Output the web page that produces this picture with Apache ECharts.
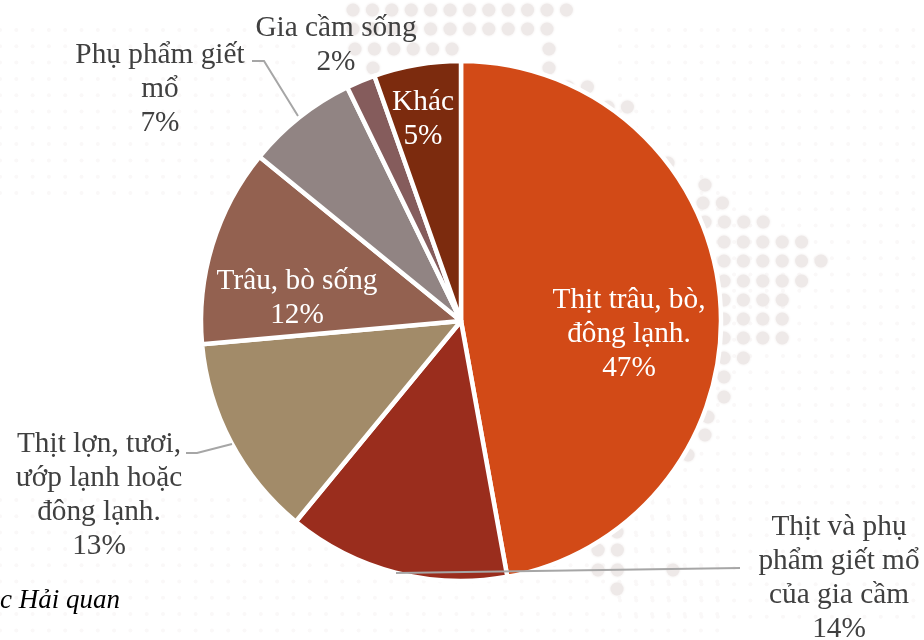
<!DOCTYPE html>
<html>
<head>
<meta charset="utf-8">
<script src="https://cdn.jsdelivr.net/npm/echarts@6/dist/echarts.min.js"></script>
<style>html,body{margin:0;padding:0;background:#fff}#c{width:924px;height:640px}</style>
</head>
<body>
<div id="c"></div>
<script>
const categories = ['Thịt trâu, bò,\nđông lạnh.', 'Thịt và phụ\nphẩm giết mổ\ncủa gia cầm', 'Thịt lợn, tươi,\nướp lạnh hoặc\nđông lạnh.', 'Trâu, bò sống', 'Phụ phẩm giết\nmổ', 'Gia cầm sống', 'Khác'];
const shares = [47.1, 13.8, 12.6, 12.3, 6.9, 1.8, 5.4];
const colors = ['#D24A17', '#9A2D1D', '#A28B69', '#936150', '#918483', '#855C5C', '#7C2B0E'];
const dark = '#404040';
const placements = [
  {x: 629, y: 334},
  {x: 839, y: 578, line: [[740, 568], [740, 568], [396, 573]]},
  {x: 99, y: 495, line: [[186, 453], [197, 453], [232, 444]]},
  {x: 297, y: 298},
  {x: 160, y: 89, line: [[252, 61], [264, 61], [298, 116]]},
  {x: 336, y: 45},
  {x: 423, y: 119}
];
const insideIdx = [0, 3, 6];
const dotRows = [
  [10, 353, 568], [29, 353, 549], [49, 355, 452], [49, 549, 549], [68, 373, 373], [68, 549, 549],
  [87, 568, 588], [107, 608, 627], [163, 668, 685], [185, 705, 705], [203, 703, 723],
  [222, 705, 763], [242, 724, 802], [261, 724, 821], [281, 724, 802], [300, 724, 782],
  [319, 724, 782], [338, 724, 782], [358, 724, 743], [377, 724, 724], [397, 724, 724],
  [417, 708, 708], [435, 705, 705], [455, 688, 688], [532, 617, 617], [550, 598, 617],
  [570, 598, 617], [570, 673, 673], [589, 617, 617]
];
const faintAreas = [[0, 300, 30, 200], [620, 924, 30, 620], [0, 720, 500, 640]];
const dots = [];
faintAreas.forEach(([x0, x1, y0, y1]) => {
  for (let y = y0; y < y1; y += 16.3) for (let x = x0; x < x1; x += 16.3) {
    dots.push({type: 'circle', silent: true, z: -2, shape: {cx: x, cy: y, r: 2}, style: {fill: '#FAF8F8'}});
  }
});
dotRows.forEach(([y, a, b]) => {
  for (let x = a; x <= b + 1; x += 19.4) {
    dots.push({type: 'circle', silent: true, z: -1, shape: {cx: x, cy: y, r: 6.5}, style: {fill: '#EEE9E8', shadowColor: '#EEE9E8', shadowBlur: 3}});
  }
});
const chart = echarts.init(document.getElementById('c'), null, {renderer: 'canvas'});
const pieBase = {type: 'pie', center: [461, 321], radius: [0, 260], startAngle: 90, clockwise: true, silent: true};
chart.setOption({
  animation: false,
  backgroundColor: '#fff',
  graphic: dots.concat([{
    type: 'text', left: 0, top: 587, silent: true,
    style: {text: 'c Hải quan', fill: '#000', font: 'italic 27px "Liberation Serif"'}
  }]),
  series: [Object.assign({}, pieBase, {
    z: 5,
    itemStyle: {borderColor: '#fff', borderWidth: 4.5},
    label: {show: false},
    labelLine: {show: false},
    data: categories.map((name, i) => ({name, value: shares[i], itemStyle: {color: colors[i]}}))
  }), Object.assign({}, pieBase, {
    z: 6,
    itemStyle: {color: 'rgba(0,0,0,0)', borderWidth: 0},
    data: categories.map((name, i) => ({
      name, value: shares[i],
      label: {color: insideIdx.includes(i) ? '#fff' : dark},
      labelLine: {show: !!placements[i].line}
    })),
    label: {
      show: true,
      position: 'outside',
      fontFamily: '"Liberation Serif"',
      fontSize: 29.3,
      lineHeight: 34,
      width: 300,
      overflow: 'none',
      align: 'center',
      formatter: p => p.name + '\n' + Math.round(p.value) + '%'
    },
    labelLine: {show: true, smooth: false, lineStyle: {color: '#A6A6A6', width: 2}},
    labelLayout: p => {
      const pl = placements[p.dataIndex];
      const r = {x: pl.x, y: pl.y, align: 'center', verticalAlign: 'middle'};
      if (pl.line) r.labelLinePoints = pl.line;
      return r;
    }
  })]
});
</script>
</body>
</html>
